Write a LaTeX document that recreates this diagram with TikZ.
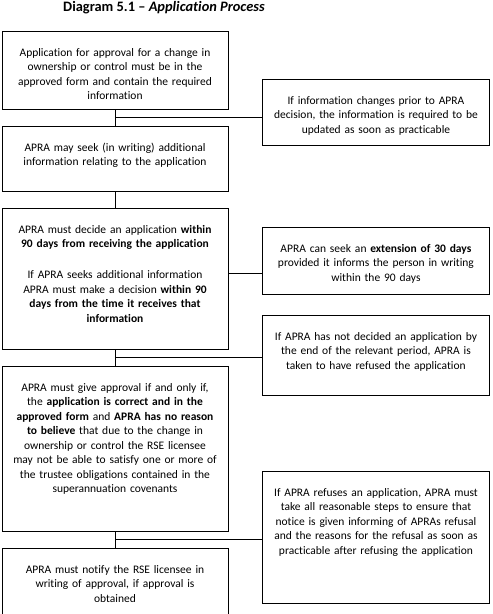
\documentclass[tikz,border=0pt]{standalone}
\usepackage{fontspec}
\setmainfont{Carlito}[Ligatures=NoCommon]
\usetikzlibrary{positioning,calc}

\begin{document}
\begin{tikzpicture}[x=1pt, y=-1pt]
% STYLES
\tikzset{%
    stage/.style={%
    draw,
    rectangle,
    line width=0.9pt,
    text width=222pt,
    inner xsep=2pt,
    inner ysep=0pt,
    align=center,
    font=\fontsize{11.5}{14.5}\selectfont,
    text height=25pt,
    text depth=#1,
    node distance=16pt}
    }
\tikzset{%
    note/.style={%
    stage=#1,
    text width=223pt,
    anchor=north west}
    }
\tikzset{link/.style={line width=0.9pt}}

\useasboundingbox (0,0) rectangle (493,614);

% Title
\node [font=\fontsize{14.4}{16}\selectfont\bfseries] (title) at (164,8) {Diagram 5.1 -- \textit{Application Process}};

% Draw stages
\node [stage=53pt, anchor=north] (Form) at (115,31) {Application for approval for a change in\\ ownership or control must be in the\\ approved form and contain the required\\ information};
\node [stage=40pt, below=of Form] (Seek) {APRA may seek (in writing) additional\\ information relating to the application};
\node [stage=116pt, below=of Seek] (Decide) {APRA must decide an application \textbf{within}\\ \textbf{90 days from receiving the application}\\[16.5pt] If APRA seeks additional information\\ APRA must make a decision \textbf{within 90}\\ \textbf{days from the time it receives that}\\ \textbf{information}};
\node [stage=140pt, below=of Decide] (Approve) {APRA must give approval if and only if,\\ the \textbf{application is correct and in the}\\ \textbf{approved form} and \textbf{APRA has no reason}\\ \textbf{to believe} that due to the change in\\ ownership or control the RSE licensee\\ may not be able to satisfy one or more of\\ the trustee obligations contained in the\\ superannuation covenants};
\node [stage=41pt, below=of Approve] (Notify) {APRA must notify the RSE licensee in\\ writing of approval, if approval is\\ obtained};

% Draw side notes
\node [note=41pt] (Update) at (262,79) {If information changes prior to APRA\\ decision, the information is required to be\\ updated as soon as practicable};
\node [note=42pt] (Extend) at (262,227) {APRA can seek an \textbf{extension of 30 days}\\ provided it informs the person in writing\\ within the 90 days};
\node [note=55pt] (Lapse) at (262,315) {If APRA has not decided an application by\\ the end of the relevant period, APRA is\\ taken to have refused the application};
\node [note=107pt] (Refuse) at (262,471) {If APRA refuses an application, APRA must\\ take all reasonable steps to ensure that\\ notice is given informing of APRAs refusal\\ and the reasons for the refusal as soon as\\ practicable after refusing the application};

% Draw the links between stages
\path[link]
(Form) edge (Seek)
(Seek) edge (Decide)
(Decide) edge (Approve)
(Approve) edge (Notify);

% Draw the links to side notes
\draw [link] ($(Form.south)!0.5!(Seek.north)$) coordinate (j1) -- (j1 -| Update.west);
\draw [link] ([yshift=5.5pt]Decide.east) coordinate (j2) -- (j2 -| Extend.west);
\draw [link] ($(Decide.south)!0.5!(Approve.north)$) coordinate (j3) -- (j3 -| Lapse.west);
\draw [link] ($(Approve.south)!0.5!(Notify.north)$) coordinate (j4) -- (j4 -| Refuse.west);

\end{tikzpicture}
\end{document}
